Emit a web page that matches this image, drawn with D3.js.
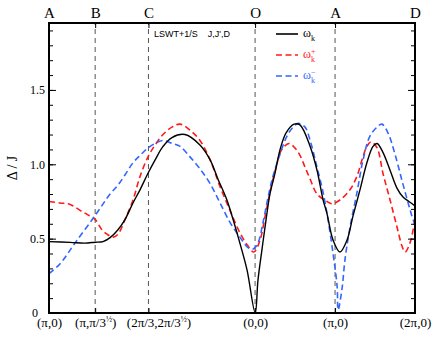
<!DOCTYPE html>
<html>
<head>
<meta charset="utf-8">
<script src="https://cdn.jsdelivr.net/npm/d3@7"></script>
<style>
  body { margin: 0; background: #fff; }
  svg { display: block; }
  .serif { font-family: "Liberation Serif", "DejaVu Serif", serif; }
</style>
</head>
<body>
<svg id="chart" width="436" height="338"></svg>
<script>
// path length along A-B-C-O-A-D (units of k)
const pathTicks = [0, 1.814, 3.908, 8.097, 11.239, 14.380];
const topLabels = ["A", "B", "C", "O", "A", "D"];
const bottomLabels = [
  ["(π,0)"], ["(π,π/3", "½", ")"], ["(2π/3,2π/3", "½", ")"],
  ["(0,0)"], ["(π,0)"], ["(2π,0)"]
];
const yMajor = [0, 0.5, 1.0, 1.5];

// omega_k  (solid black)
const omegaK = [
  [0, 0.48], [0.83, 0.475], [1.41, 0.47], [1.81, 0.476], [2.12, 0.48],
  [2.40, 0.507], [2.71, 0.56], [2.99, 0.63], [3.30, 0.74], [3.58, 0.83],
  [3.89, 0.94], [4.17, 1.03], [4.48, 1.12], [4.83, 1.18], [5.34, 1.20],
  [5.93, 1.13], [6.33, 1.03], [6.64, 0.90], [6.99, 0.76], [7.23, 0.63],
  [7.50, 0.47], [7.78, 0.29], [8.10, 0.0], [8.21, 0.22], [8.37, 0.43],
  [8.53, 0.63], [8.68, 0.80], [8.88, 0.94], [9.08, 1.10], [9.31, 1.21],
  [9.63, 1.27], [9.86, 1.265], [10.26, 1.12], [10.53, 0.96], [10.77, 0.76],
  [10.92, 0.67], [11.16, 0.49], [11.43, 0.41], [11.71, 0.49], [11.94, 0.65],
  [12.22, 0.83], [12.49, 1.01], [12.73, 1.12], [12.89, 1.14], [13.12, 1.08],
  [13.40, 0.96], [13.67, 0.84], [13.91, 0.78], [14.14, 0.75], [14.38, 0.72]
];

// omega_k^+  (red dashed)
const omegaPlus = [
  [0, 0.75], [0.43, 0.74], [0.83, 0.73], [1.22, 0.69], [1.53, 0.66],
  [1.81, 0.63], [2.08, 0.56], [2.28, 0.53], [2.52, 0.51], [2.71, 0.53],
  [2.99, 0.63], [3.30, 0.76], [3.58, 0.92], [3.89, 1.05], [4.17, 1.13],
  [4.48, 1.20], [4.83, 1.25], [5.15, 1.27], [5.54, 1.23], [5.93, 1.16],
  [6.33, 1.03], [6.72, 0.85], [7.11, 0.69], [7.50, 0.54], [7.82, 0.45],
  [8.05, 0.41], [8.29, 0.49], [8.49, 0.65], [8.68, 0.81], [8.92, 0.98],
  [9.15, 1.10], [9.43, 1.14], [9.66, 1.11], [9.86, 1.06], [10.06, 0.98],
  [10.26, 0.90], [10.53, 0.80], [10.92, 0.75], [11.12, 0.735], [11.43, 0.76],
  [11.83, 0.83], [12.10, 0.92], [12.30, 1.03], [12.49, 1.12], [12.65, 1.15],
  [12.89, 1.11], [13.12, 0.94], [13.40, 0.76], [13.67, 0.58], [13.87, 0.45],
  [13.99, 0.41], [14.18, 0.47], [14.38, 0.63]
];

// omega_k^-  (blue dashed)
const omegaMinus = [
  [0, 0.265], [0.43, 0.33], [1.02, 0.47], [1.81, 0.655], [2.40, 0.80],
  [2.71, 0.86], [2.99, 0.93], [3.30, 1.01], [3.58, 1.06], [3.89, 1.11],
  [4.17, 1.14], [4.48, 1.16], [4.83, 1.14], [5.15, 1.12], [5.54, 1.05],
  [5.93, 0.97], [6.33, 0.87], [6.72, 0.74], [7.11, 0.61], [7.50, 0.51],
  [7.82, 0.44], [8.02, 0.43], [8.21, 0.47], [8.41, 0.61], [8.61, 0.78],
  [8.80, 0.92], [9.08, 1.07], [9.35, 1.19], [9.59, 1.25], [9.80, 1.275],
  [10.06, 1.25], [10.26, 1.16], [10.53, 0.98], [10.77, 0.81], [10.96, 0.63],
  [11.16, 0.40], [11.32, 0.18], [11.36, 0.02], [11.51, 0.16], [11.63, 0.36],
  [11.83, 0.58], [12.10, 0.81], [12.34, 1.03], [12.61, 1.19], [12.89, 1.25],
  [13.08, 1.27], [13.32, 1.21], [13.59, 1.07], [13.87, 0.89], [14.11, 0.74],
  [14.30, 0.63], [14.38, 0.60]
];

const margin = { top: 23, right: 21, bottom: 25, left: 49 };
const W = 436, H = 338;

const svg = d3.select("#chart");

const x = d3.scaleLinear().domain([0, 14.38]).range([margin.left, W - margin.right]);
const y = d3.scaleLinear().domain([0, 1.95]).range([H - margin.bottom, margin.top]);

// dashed symmetry-point lines
svg.append("g")
  .selectAll("line")
  .data(pathTicks.slice(1, -1))
  .join("line")
  .attr("x1", d => x(d)).attr("x2", d => x(d))
  .attr("y1", y(0)).attr("y2", y(1.95))
  .attr("stroke", "#555")
  .attr("stroke-width", 1)
  .attr("stroke-dasharray", "5,4");

const line = d3.line()
  .x(d => x(d[0]))
  .y(d => y(d[1]))
  .curve(d3.curveCatmullRom.alpha(0.5));

const series = [
  { data: omegaPlus, color: "#ff1a1a", dash: "6,3.5", width: 1.6 },
  { data: omegaMinus, color: "#3366ff", dash: "6,3.5", width: 1.6 },
  { data: omegaK, color: "#000", dash: null, width: 1.4 }
];

svg.append("g")
  .selectAll("path")
  .data(series)
  .join("path")
  .attr("fill", "none")
  .attr("stroke", d => d.color)
  .attr("stroke-width", d => d.width)
  .attr("stroke-dasharray", d => d.dash)
  .attr("d", d => line(d.data));

// axes
const yMinor = d3.range(0, 1.95, 0.1);

svg.append("g")
  .attr("transform", `translate(${margin.left},0)`)
  .call(d3.axisLeft(y).tickValues(yMinor).tickSize(-4).tickFormat(""))
  .call(g => g.select(".domain").remove());

const yAxis = svg.append("g")
  .attr("transform", `translate(${margin.left},0)`)
  .call(d3.axisLeft(y).tickValues(yMajor).tickSize(-7).tickPadding(4)
    .tickFormat(d => d === 0 ? "0" : d3.format(".1f")(d)))
  .call(g => g.select(".domain").remove());
yAxis.attr("font-family", null).attr("font-size", null);
yAxis.selectAll("text")
  .attr("class", "serif").style("font-size", "12px").attr("fill", "#000")
  .attr("dx", d => d === 0 ? -7 : 0);

svg.append("g")
  .attr("transform", `translate(${W - margin.right},0)`)
  .call(d3.axisRight(y).tickValues(yMinor).tickSize(-4).tickFormat(""))
  .call(g => g.select(".domain").remove());
svg.append("g")
  .attr("transform", `translate(${W - margin.right},0)`)
  .call(d3.axisRight(y).tickValues(yMajor).tickSize(-7).tickFormat(""))
  .call(g => g.select(".domain").remove());

const topAxis = svg.append("g")
  .attr("transform", `translate(0,${margin.top})`)
  .call(d3.axisTop(x).tickValues(pathTicks).tickSize(-5).tickPadding(5)
    .tickFormat((d, i) => topLabels[i]))
  .call(g => g.select(".domain").remove());
topAxis.attr("font-family", null).attr("font-size", null);
topAxis.selectAll("text")
  .attr("class", "serif").style("font-size", "15px").attr("fill", "#000");

const bottomAxis = svg.append("g")
  .attr("transform", `translate(0,${H - margin.bottom})`)
  .call(d3.axisBottom(x).tickValues(pathTicks).tickSize(-5).tickFormat(""))
  .call(g => g.select(".domain").remove());
bottomAxis.attr("font-family", null).attr("font-size", null);

bottomAxis.selectAll(".tick")
  .append("text")
  .attr("class", "serif")
  .attr("y", 14)
  .attr("dx", (d, i) => i === 2 ? 10 : 0)
  .attr("text-anchor", "middle")
  .style("font-size", "13px")
  .attr("fill", "#000")
  .each(function (d, i) {
    const parts = bottomLabels[i];
    const t = d3.select(this);
    t.append("tspan").text(parts[0]);
    if (parts.length > 1) {
      t.append("tspan").attr("dy", -5).style("font-size", "8px").text(parts[1]);
      t.append("tspan").attr("dy", 5).text(parts[2]);
    }
  });

svg.selectAll(".tick line").attr("stroke", "#000").attr("stroke-width", 1);

// frame
svg.append("rect")
  .attr("x", margin.left).attr("y", margin.top)
  .attr("width", W - margin.left - margin.right)
  .attr("height", H - margin.top - margin.bottom)
  .attr("fill", "none")
  .attr("stroke", "#000")
  .attr("stroke-width", 2);

// y label
svg.append("text")
  .attr("class", "serif")
  .attr("transform", `translate(17,${(margin.top + H - margin.bottom) / 2}) rotate(-90)`)
  .attr("text-anchor", "middle")
  .style("font-size", "14px")
  .text("Δ / J");

// annotation
svg.append("text")
  .attr("x", 154).attr("y", 37)
  .attr("font-family", "'Liberation Sans', Arial, sans-serif")
  .attr("font-size", 9)
  .attr("xml:space", "preserve")
  .text("LSWT+1/S    J,J',D");

// legend
const legend = [
  { color: "#000", dash: null, sup: "", ly: 34 },
  { color: "#ff1a1a", dash: "6,3.5", sup: "+", ly: 55 },
  { color: "#3366ff", dash: "6,3.5", sup: "−", ly: 76 }
];
const lg = svg.append("g").selectAll("g").data(legend).join("g");
lg.append("line")
  .attr("x1", 276).attr("x2", 298)
  .attr("y1", d => d.ly).attr("y2", d => d.ly)
  .attr("stroke", d => d.color)
  .attr("stroke-width", 1.6)
  .attr("stroke-dasharray", d => d.dash);
lg.append("text")
  .attr("class", "serif")
  .attr("x", 303).attr("y", d => d.ly + 3)
  .style("font-size", "12px")
  .attr("fill", d => d.color)
  .text("ω");
lg.append("text")
  .attr("class", "serif")
  .attr("x", 311).attr("y", d => d.ly + 7)
  .style("font-size", "8px")
  .attr("fill", d => d.color)
  .text("k");
lg.append("text")
  .attr("class", "serif")
  .attr("x", 311).attr("y", d => d.ly - 1)
  .style("font-size", "8px")
  .attr("fill", d => d.color)
  .text(d => d.sup);
</script>
</body>
</html>
